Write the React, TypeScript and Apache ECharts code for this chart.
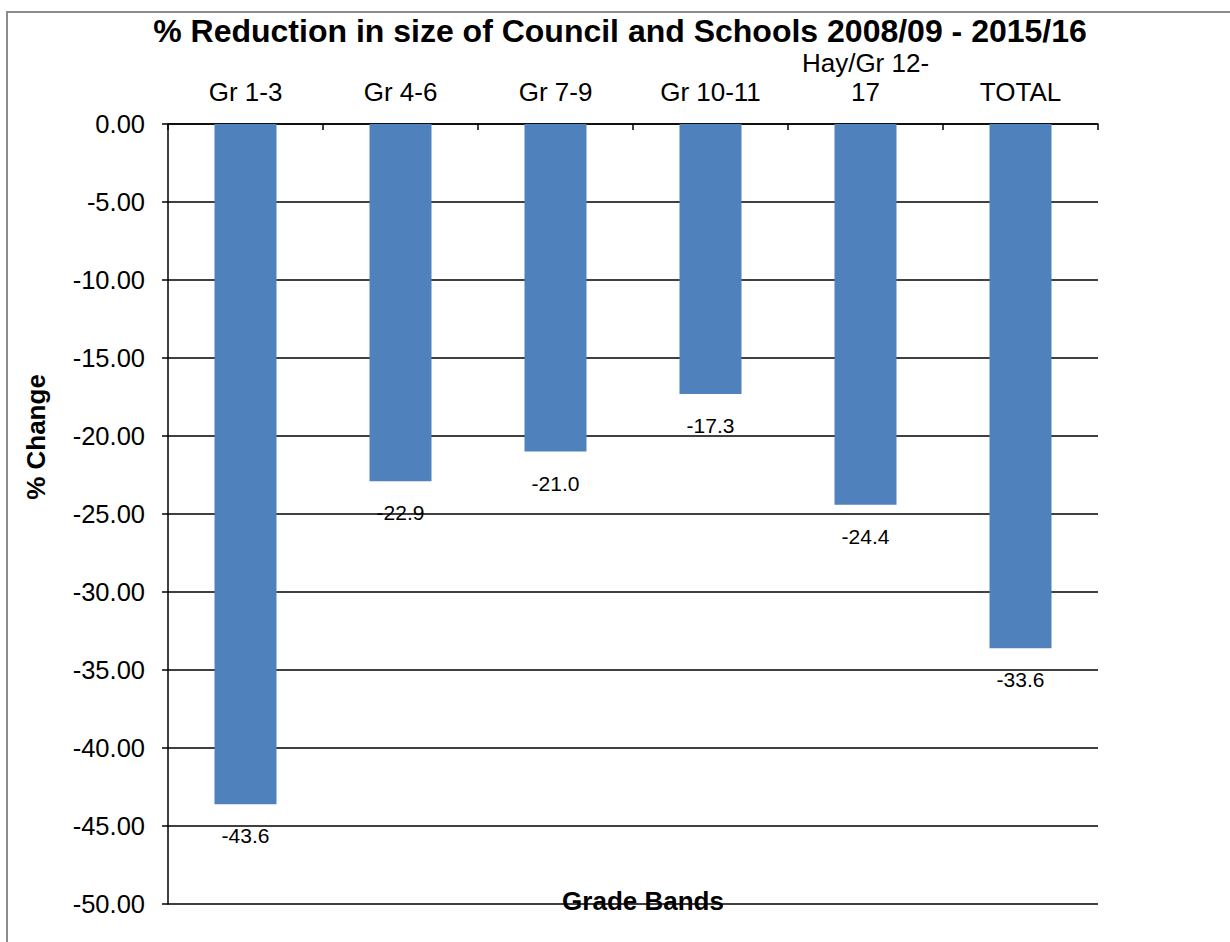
import React, { useEffect, useRef } from "react";
import * as echarts from "echarts";

const titleText = "% Reduction in size of Council and Schools 2008/09 - 2015/16";
const categories = ["Gr 1-3", "Gr 4-6", "Gr 7-9", "Gr 10-11", "Hay/Gr 12-17", "TOTAL"];
const values = [-43.6, -22.9, -21.0, -17.3, -24.4, -33.6];
const yAxisName = "% Change";
const xAxisName = "Grade Bands";

const FONT = "'Liberation Sans', Arial, sans-serif";

export default function App() {
  const ref = useRef<HTMLDivElement>(null);
  useEffect(() => {
    if (!ref.current) return;
    const chart = echarts.init(ref.current, null, { renderer: "svg" });
    chart.setOption({
      animation: false,
      backgroundColor: "#fff",
      textStyle: { fontFamily: FONT },
      grid: { left: 168, right: 132, top: 124, bottom: 38 },
      xAxis: {
        type: "category",
        position: "top",
        data: categories,
        axisLine: { show: true, lineStyle: { color: "#000", width: 1.5 } },
        axisTick: { show: true, inside: true, length: 6, lineStyle: { color: "#000", width: 1.5 } },
        axisLabel: {
          color: "#000",
          fontSize: 26,
          fontFamily: FONT,
          margin: 18,
          lineHeight: 29,
          interval: 0,
          formatter: (v: string) => v.replace("12-", "12-\n"),
        },
        splitLine: { show: false },
      },
      yAxis: {
        type: "value",
        min: -50,
        max: 0,
        interval: 5,
        axisLine: { show: true, lineStyle: { color: "#000", width: 1.5 } },
        axisTick: { show: true, inside: false, length: 6, lineStyle: { color: "#000", width: 1.5 } },
        axisLabel: {
          color: "#000",
          fontSize: 25.5,
          fontFamily: FONT,
          margin: 23,
          formatter: (v: number) => v.toFixed(2),
        },
        splitLine: { show: true, lineStyle: { color: "#000", width: 1.5 } },
      },
      series: [
        {
          type: "bar",
          data: values,
          barWidth: "40%",
          itemStyle: { color: "#4F81BD" },
          label: {
            show: true,
            position: "outside",
            distance: 21,
            color: "#000",
            fontSize: 21,
            fontFamily: FONT,
            formatter: (p: any) => Number(p.value).toFixed(1),
          },
        },
      ],
      graphic: [
        {
          type: "rect",
          shape: { x: 7, y: 12, width: 1400, height: 1200 },
          style: { fill: "none", stroke: "#8c8c8c", lineWidth: 2 },
          silent: true,
        },
        {
          type: "text",
          x: 620,
          y: 31,
          style: {
            text: titleText,
            fontSize: 32,
            fontWeight: "bold",
            fontFamily: FONT,
            fill: "#000",
            align: "center",
            verticalAlign: "middle",
          },
        },
        {
          type: "text",
          x: 36,
          y: 437,
          rotation: Math.PI / 2,
          style: {
            text: yAxisName,
            fontSize: 26,
            fontWeight: "bold",
            fontFamily: FONT,
            fill: "#000",
            align: "center",
            verticalAlign: "middle",
          },
        },
        {
          type: "text",
          x: 643,
          y: 901,
          z: 100,
          style: {
            text: xAxisName,
            fontSize: 26,
            fontWeight: "bold",
            fontFamily: FONT,
            fill: "#000",
            align: "center",
            verticalAlign: "middle",
          },
        },
      ],
    });
    return () => chart.dispose();
  }, []);
  return (
    <div
      ref={ref}
      style={{ position: "absolute", left: 0, top: 0, width: 1230, height: 942 }}
    />
  );
}
